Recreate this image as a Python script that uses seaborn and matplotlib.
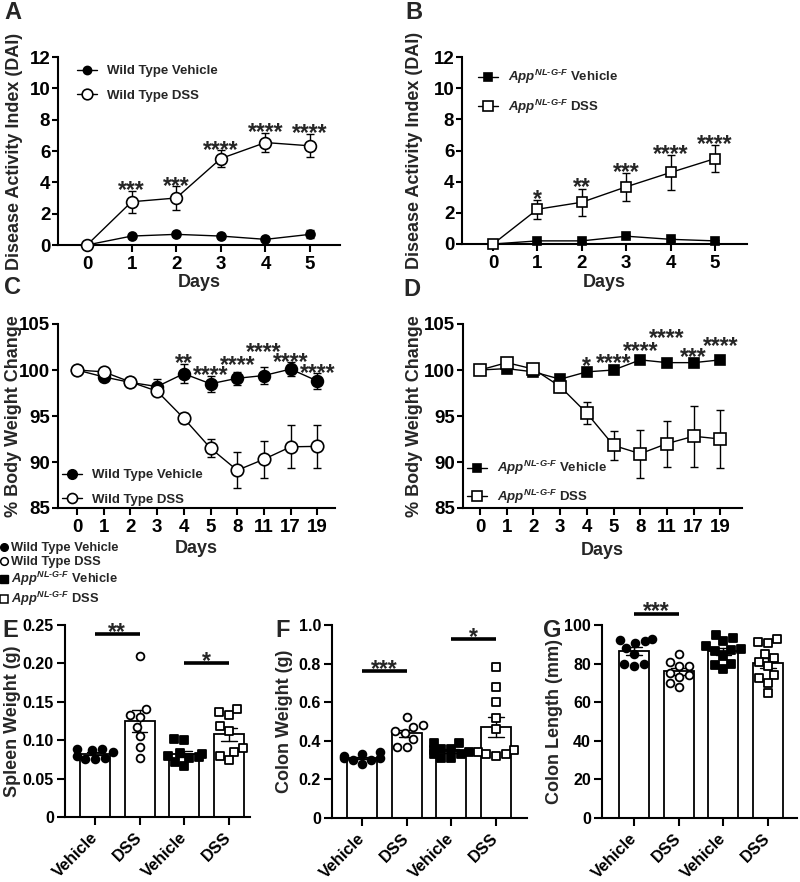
import numpy as np
import pandas as pd
import matplotlib
matplotlib.use("Agg")
import matplotlib.pyplot as plt
import seaborn as sns
from matplotlib.lines import Line2D

# ------------------------- data -------------------------
dai_days = [0, 1, 2, 3, 4, 5]
wt_veh_dai = [0.0, 0.57, 0.68, 0.57, 0.36, 0.68]
wt_veh_dai_err = [0.0, 0.1, 0.12, 0.12, 0.12, 0.25]
wt_dss_dai = [0.0, 2.76, 3.0, 5.52, 6.54, 6.33]
wt_dss_dai_err = [0.0, 0.7, 0.74, 0.52, 0.63, 0.74]
wt_dai_stars = ["", "***", "***", "****", "****", "****"]

app_veh_dai = [0.0, 0.2, 0.2, 0.5, 0.3, 0.2]
app_veh_dai_err = [0.0, 0.08, 0.08, 0.1, 0.1, 0.08]
app_dss_dai = [0.0, 2.23, 2.68, 3.67, 4.59, 5.48]
app_dss_dai_err = [0.0, 0.6, 0.87, 0.88, 1.1, 0.88]
app_dai_stars = ["", "*", "**", "***", "****", "****"]

bw_days = [0, 1, 2, 3, 4, 5, 8, 11, 17, 19]
wt_veh_bw = [100.0, 99.25, 98.65, 98.2, 99.6, 98.5, 99.1, 99.4, 100.1, 98.8]
wt_veh_bw_err = [0.0, 0.3, 0.3, 0.8, 1.0, 0.9, 0.7, 0.9, 0.8, 0.9]
wt_dss_bw = [100.0, 99.8, 98.7, 97.7, 94.75, 91.5, 89.1, 90.3, 91.65, 91.7]
wt_dss_bw_err = [0.0, 0.2, 0.3, 0.3, 0.55, 1.0, 1.95, 2.0, 2.35, 2.3]
wt_bw_stars = ["", "", "", "", "**", "****", "****", "****", "****", "****"]

app_veh_bw = [100.0, 100.15, 99.8, 99.0, 99.8, 100.0, 101.1, 100.8, 100.8, 101.1]
app_veh_bw_err = [0.0, 0.2, 0.2, 0.2, 0.2, 0.2, 0.3, 0.3, 0.3, 0.3]
app_dss_bw = [100.0, 100.8, 100.1, 98.2, 95.3, 91.8, 90.9, 92.0, 92.8, 92.5]
app_dss_bw_err = [0.0, 0.3, 0.3, 0.6, 1.2, 1.6, 2.6, 2.5, 3.3, 3.1]
app_bw_stars = ["", "", "", "", "*", "****", "****", "****", "***", "****"]

groups = ["WT Vehicle", "WT DSS", "App Vehicle", "App DSS"]
group_ticks = ["Vehicle", "DSS", "Vehicle", "DSS"]

spleen_wt_veh = [0.089, 0.087, 0.085, 0.088, 0.080, 0.075, 0.076, 0.077]
spleen_wt_dss = [0.210, 0.140, 0.130, 0.133, 0.105, 0.117, 0.091, 0.077]
spleen_app_veh = [0.100, 0.101, 0.080, 0.078, 0.077, 0.066, 0.072, 0.083, 0.082]
spleen_app_dss = [0.133, 0.140, 0.137, 0.112, 0.118, 0.085, 0.074, 0.090, 0.080]

colon_wt_veh = [0.31, 0.32, 0.30, 0.33, 0.34, 0.28, 0.30, 0.31]
colon_wt_dss = [0.525, 0.47, 0.48, 0.44, 0.45, 0.37, 0.37, 0.41]
colon_app_veh = [0.39, 0.39, 0.36, 0.35, 0.34, 0.33, 0.31, 0.31, 0.36, 0.33]
colon_app_dss = [0.78, 0.68, 0.60, 0.52, 0.46, 0.35, 0.34, 0.33, 0.33, 0.32]

length_wt_veh = [93, 92, 91.5, 90.5, 88, 85, 80, 79, 80]
length_wt_dss = [85, 81, 79, 78.5, 75, 74, 70, 68, 73]
length_app_veh = [95, 93.5, 91.5, 89, 87.5, 87, 86.5, 84, 80, 79.5, 77]
length_app_dss = [92.5, 91, 90.5, 85, 83, 81, 79, 74, 72.5, 70, 65]

# annotation placements (star centres, comparison bars)
wt_bw_star_y = [None, None, None, None, 101.4, 100.1, 101.2, 102.6, 101.5, 100.3]
app_bw_star_y = [None, None, None, None, 101.05, 101.4, 102.7, 104.1, 102.0, 103.2]
spleen_sig = [(0, 1, 0.238, "**"), (2, 3, 0.200, "*")]
colon_sig = [(0, 1, 0.76, "***"), (2, 3, 0.925, "*")]
length_sig = [(0, 1, 105.7, "***")]

WT_VEH = "Wild Type Vehicle"
WT_DSS = "Wild Type DSS"
APP_VEH = "$\\mathit{App}^{\\mathit{NL\u2010G\u2010F}}$ Vehicle"
APP_DSS = "$\\mathit{App}^{\\mathit{NL\u2010G\u2010F}}$ DSS"

# ------------------------- style -------------------------
sns.set_style("ticks")
plt.rcParams.update({
    "font.family": ["Liberation Sans", "DejaVu Sans"],
    "font.weight": "bold",
    "axes.labelweight": "bold",
    "axes.linewidth": 1.5,
    "xtick.major.width": 1.5,
    "ytick.major.width": 1.5,
    "xtick.major.size": 5,
    "ytick.major.size": 4,
    "xtick.major.pad": 3,
    "ytick.major.pad": 1.5,
    "xtick.labelsize": 13.5,
    "ytick.labelsize": 13.5,
    "axes.labelsize": 13,
    "xtick.color": "black",
    "ytick.color": "black",
    "axes.edgecolor": "black",
    "mathtext.fontset": "custom",
    "mathtext.rm": "Liberation Sans:bold",
    "mathtext.it": "Liberation Sans:italic:bold",
    "mathtext.bf": "Liberation Sans:bold",
})

W, H = 800, 882
fig = plt.figure(figsize=(W / 100, H / 100), dpi=100)


def add_ax(l, t, r, b):
    ax = fig.add_axes([l / W, 1 - b / H, (r - l) / W, (b - t) / H])
    ax._px = (l, t, r, b)
    return ax


def place_labels(ax, ylab_right, xlab_top=None):
    l, t, r, b = ax._px
    ax.yaxis.set_label_coords((ylab_right - l) / (r - l), 0.5)
    if xlab_top is not None:
        ax.xaxis.set_label_coords(0.5, -(xlab_top - b) / (b - t))


STAR_FS = 16.5


def star(ax, x, yc, s, extra_pts=0.0, fs=STAR_FS):
    ax.annotate(s, (x, yc), xytext=(0, extra_pts - 0.56 * fs), textcoords="offset points",
                ha="center", va="baseline", fontsize=fs, fontweight="bold",
                annotation_clip=False)


def line_series(ax, x, vals, errs, marker, face, ms, label):
    ax.errorbar(x, vals, yerr=errs, fmt="none", ecolor="black", elinewidth=1.0,
                capsize=2.8, capthick=1.0, zorder=2, clip_on=False)
    sns.lineplot(x=x, y=vals, ax=ax, color="black", linewidth=1.0, marker=marker,
                 markersize=ms, markerfacecolor=face, markeredgecolor="black",
                 markeredgewidth=1.2, label=label, errorbar=None, zorder=3, clip_on=False)


# ------------------------- Panel A -------------------------
axA = add_ax(58, 57, 340, 245)
line_series(axA, dai_days, wt_veh_dai, wt_veh_dai_err, "o", "black", 6.5, WT_VEH)
line_series(axA, dai_days, wt_dss_dai, wt_dss_dai_err, "o", "white", 8.5, WT_DSS)
for d, m, e, s in zip(dai_days, wt_dss_dai, wt_dss_dai_err, wt_dai_stars):
    if s:
        star(axA, d, m + e + 0.42, s)
axA.set_xlim(-0.65, 5.67)
axA.set_ylim(0, 12)
axA.set_xticks(dai_days)
axA.set_yticks([0, 2, 4, 6, 8, 10, 12])
axA.set_xlabel("Days")
axA.set_ylabel("Disease Activity Index (DAI)")
place_labels(axA, 23, 274)
axA.legend(loc="upper left", bbox_to_anchor=(77 / W, 1 - 65 / H), bbox_transform=fig.transFigure,
           frameon=False, fontsize=9.5, borderpad=0, borderaxespad=0, handlelength=1.5,
           handletextpad=0.8, labelspacing=0.95, markerscale=0.9)

# ------------------------- Panel B -------------------------
axB = add_ax(462, 57, 747, 244)
line_series(axB, dai_days, app_veh_dai, app_veh_dai_err, "s", "black", 6, APP_VEH)
line_series(axB, dai_days, app_dss_dai, app_dss_dai_err, "s", "white", 7.5, APP_DSS)
for d, m, e, s in zip(dai_days, app_dss_dai, app_dss_dai_err, app_dai_stars):
    if s:
        star(axB, d, m + e + 0.46, s)
axB.set_xlim(-0.70, 5.72)
axB.set_ylim(0, 12)
axB.set_xticks(dai_days)
axB.set_yticks([0, 2, 4, 6, 8, 10, 12])
axB.set_xlabel("Days")
axB.set_ylabel("Disease Activity Index (DAI)")
place_labels(axB, 423, 274)
axB.legend(loc="upper left", bbox_to_anchor=(478 / W, 1 - 68 / H), bbox_transform=fig.transFigure,
           frameon=False, fontsize=9.5, borderpad=0, borderaxespad=0, handlelength=1.5,
           handletextpad=0.8, labelspacing=0.85)

# ------------------------- Panel C -------------------------
bw_pos = list(range(len(bw_days)))
axC = add_ax(58, 324, 335, 508)
line_series(axC, bw_pos, wt_veh_bw, wt_veh_bw_err, "o", "black", 8.5, WT_VEH)
line_series(axC, bw_pos, wt_dss_bw, wt_dss_bw_err, "o", "white", 9, WT_DSS)
for p, yc, s in zip(bw_pos, wt_bw_star_y, wt_bw_stars):
    if s:
        star(axC, p, yc, s)
axC.set_xlim(-0.71, 9.66)
axC.set_ylim(85, 105)
axC.set_xticks(bw_pos)
axC.set_xticklabels([str(d) for d in bw_days])
axC.set_yticks([85, 90, 95, 100, 105])
axC.set_xlabel("Days")
axC.set_ylabel("% Body Weight Change")
place_labels(axC, 22, 540)
axC.legend(loc="lower left", bbox_to_anchor=(62 / W, 1 - 506 / H), bbox_transform=fig.transFigure,
           frameon=False, fontsize=9.5, borderpad=0, borderaxespad=0, handlelength=1.5,
           handletextpad=0.8, labelspacing=0.95, markerscale=0.8)

# ------------------------- Panel D -------------------------
axD = add_ax(463, 324, 742, 508)
line_series(axD, bw_pos, app_veh_bw, app_veh_bw_err, "s", "black", 7, APP_VEH)
line_series(axD, bw_pos, app_dss_bw, app_dss_bw_err, "s", "white", 8, APP_DSS)
for p, yc, s in zip(bw_pos, app_bw_star_y, app_bw_stars):
    if s:
        star(axD, p, yc, s)
axD.set_xlim(-0.64, 9.81)
axD.set_ylim(85, 105)
axD.set_xticks(bw_pos)
axD.set_xticklabels([str(d) for d in bw_days])
axD.set_yticks([85, 90, 95, 100, 105])
axD.set_xlabel("Days")
axD.set_ylabel("% Body Weight Change")
place_labels(axD, 423, 542)
axD.legend(loc="lower left", bbox_to_anchor=(467 / W, 1 - 506 / H), bbox_transform=fig.transFigure,
           frameon=False, fontsize=9.5, borderpad=0, borderaxespad=0, handlelength=1.5,
           handletextpad=0.8, labelspacing=0.8, markerscale=0.85)

# ------------------------- bar panels -------------------------
group_styles = [("o", "black"), ("o", "white"), ("s", "black"), ("s", "white")]


def bar_panel(ax, series, sig, ylim, yticks, yticklabels, ylabel, xlim):
    df = pd.DataFrame({
        "group": np.repeat(groups, [len(v) for v in series]),
        "value": np.concatenate([np.asarray(v, float) for v in series]),
    })
    sns.barplot(data=df, x="group", y="value", order=groups, errorbar="se", color="white",
                edgecolor="black", linewidth=1.3, width=0.67, capsize=0.35,
                err_kws={"color": "black", "linewidth": 1.0}, ax=ax)
    for g, (mk, fc) in zip(groups, group_styles):
        sns.swarmplot(data=df[df["group"] == g], x="group", y="value", order=groups,
                      marker=mk, color=fc, edgecolor="black", linewidth=1.3, size=5.6, ax=ax)
    for x0, x1, yv, s in sig:
        ax.plot([x0, x1], [yv, yv], color="black", lw=2.6, clip_on=False, solid_capstyle="butt")
        star(ax, (x0 + x1) / 2, yv, s, extra_pts=6.0, fs=16.5)
    ax.set_xlim(*xlim)
    ax.set_ylim(*ylim)
    ax.set_yticks(yticks)
    ax.set_yticklabels(yticklabels, fontsize=11.5)
    ax.set_xticks(range(len(groups)))
    ax.set_xticklabels(group_ticks, rotation=45, ha="right", va="center",
                       rotation_mode="anchor", fontsize=11.8)
    ax.tick_params(axis="x", pad=7, length=6)
    ax.tick_params(axis="y", pad=2, length=6)
    ax.set_xlabel("")
    ax.set_ylabel(ylabel, fontsize=13)


axE = add_ax(65, 625, 250, 817)
bar_panel(axE, [spleen_wt_veh, spleen_wt_dss, spleen_app_veh, spleen_app_dss], spleen_sig,
          (0, 0.25), [0, 0.05, 0.10, 0.15, 0.20, 0.25], ["0", "0.05", "0.10", "0.15", "0.20", "0.25"],
          "Spleen Weight (g)", (-0.67, 3.47))
place_labels(axE, 21)

axF = add_ax(332, 625, 527, 818)
bar_panel(axF, [colon_wt_veh, colon_wt_dss, colon_app_veh, colon_app_dss], colon_sig,
          (0, 1.0), [0, 0.2, 0.4, 0.6, 0.8, 1.0], ["0", "0.2", "0.4", "0.6", "0.8", "1.0"],
          "Colon Weight (g)", (-0.67, 3.69))
place_labels(axF, 293)

axG = add_ax(602, 625, 797, 818)
bar_panel(axG, [length_wt_veh, length_wt_dss, length_app_veh, length_app_dss], length_sig,
          (0, 100), [0, 20, 40, 60, 80, 100], ["0", "20", "40", "60", "80", "100"],
          "Colon Length (mm)", (-0.72, 3.65))
place_labels(axG, 563)

for ax in [axA, axB, axC, axD, axE, axF, axG]:
    sns.despine(ax=ax)
    for lab in ax.get_xticklabels() + ax.get_yticklabels():
        lab.set_fontweight("bold")

# ------------------------- shared key -------------------------
key_handles = [
    Line2D([], [], linestyle="none", marker="o", markersize=5.5, markerfacecolor="black", markeredgecolor="black"),
    Line2D([], [], linestyle="none", marker="o", markersize=5.5, markerfacecolor="white", markeredgecolor="black", markeredgewidth=1.1),
    Line2D([], [], linestyle="none", marker="s", markersize=5.5, markerfacecolor="black", markeredgecolor="black"),
    Line2D([], [], linestyle="none", marker="s", markersize=5.5, markerfacecolor="white", markeredgecolor="black", markeredgewidth=1.1),
]
fig.legend(key_handles, [WT_VEH, WT_DSS, APP_VEH, APP_DSS], loc="upper left",
           bbox_to_anchor=(0.5 / W, 1 - 542 / H), frameon=False, fontsize=9.3, borderpad=0,
           borderaxespad=0, handlelength=0.6, handletextpad=0.25, labelspacing=0.15)

# ------------------------- panel letters -------------------------
for letter, (px, py) in {"A": (4, 1), "B": (405, 1), "C": (4, 276), "D": (403, 278),
                         "E": (2, 619), "F": (275, 619), "G": (543, 619)}.items():
    fig.text(px / W, 1 - py / H, letter, fontsize=17, fontweight="bold", va="top", ha="left")

fig.savefig("out.png", dpi=100)
